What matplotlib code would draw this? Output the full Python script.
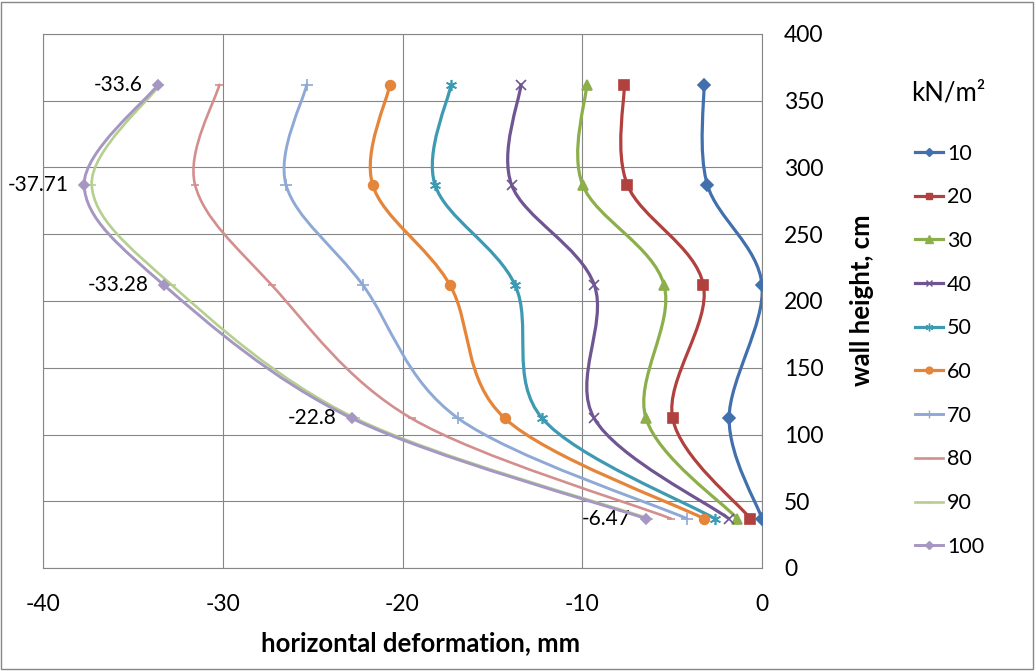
import matplotlib
matplotlib.use("Agg")
import matplotlib.pyplot as plt
from matplotlib.path import Path
from matplotlib.patches import PathPatch, Rectangle
from matplotlib.lines import Line2D

plt.rcParams['font.family'] = ['Lato', 'DejaVu Sans']
plt.rcParams['axes.unicode_minus'] = False

# wall heights (cm) of the measuring points
heights = [37, 112, 212, 287, 362]

# horizontal deformation (mm) for each load (kN/m2)
loads = ['10', '20', '30', '40', '50', '60', '70', '80', '90', '100']
d10 = [0.0, -1.83, 0.0, -3.04, -3.23]
d20 = [-0.65, -4.97, -3.26, -7.49, -7.66]
d30 = [-1.37, -6.45, -5.45, -9.98, -9.75]
d40 = [-1.85, -9.33, -9.33, -13.93, -13.41]
d50 = [-2.63, -12.22, -13.74, -18.19, -17.30]
d60 = [-3.23, -14.30, -17.36, -21.66, -20.70]
d70 = [-4.18, -16.89, -22.21, -26.48, -25.33]
d80 = [-5.07, -19.49, -27.28, -31.54, -30.19]
d90 = [-6.30, -22.60, -32.84, -37.29, -33.50]
d100 = [-6.47, -22.8, -33.28, -37.71, -33.6]
series = [d10, d20, d30, d40, d50, d60, d70, d80, d90, d100]

colors = ['#4270AD', '#B0413E', '#8CAF4B', '#6F5592', '#3E9AB2',
          '#E5853A', '#8EA9D5', '#D38F8D', '#B5CF8E', '#A596C2']
markers = ['D', 's', '^', 'x', (6, 2, 0), 'o', '+', '_', '_', 'D']
msizes = [6, 7, 7.5, 7, 8, 7, 8, 6, 6, 5.5]
lwidths = [2.3, 2.3, 2.3, 2.3, 2.3, 2.3, 2.1, 1.9, 1.9, 2.1]


def smooth_path(xs, ys):
    # Excel-like smoothed line: cubic Bezier through every point
    pts = list(zip(xs, ys))
    n = len(pts)
    verts = [pts[0]]
    codes = [Path.MOVETO]
    for i in range(n - 1):
        p0 = pts[i - 1] if i > 0 else pts[i]
        p1 = pts[i]
        p2 = pts[i + 1]
        p3 = pts[i + 2] if i + 2 < n else pts[i + 1]
        c1 = (p1[0] + (p2[0] - p0[0]) / 6, p1[1] + (p2[1] - p0[1]) / 6)
        c2 = (p2[0] - (p3[0] - p1[0]) / 6, p2[1] - (p3[1] - p1[1]) / 6)
        verts += [c1, c2, p2]
        codes += [Path.CURVE4] * 3
    return Path(verts, codes)


fig = plt.figure(figsize=(10.36, 6.71), dpi=100)
ax = fig.add_axes([43 / 1036, 103 / 671, 719 / 1036, 534 / 671])

handles = []
for i, vals in enumerate(series):
    patch = PathPatch(smooth_path(vals, heights), fill=False, edgecolor=colors[i],
                      lw=lwidths[i], zorder=3 + i, capstyle='round', joinstyle='round')
    ax.add_patch(patch)
    ax.plot(vals, heights, ls='none', marker=markers[i], ms=msizes[i],
            color=colors[i], mec=colors[i], mew=1.2, zorder=3 + i)
    handles.append(Line2D([], [], color=colors[i], lw=lwidths[i], marker=markers[i],
                          ms=msizes[i] * 0.7, mew=1.0))

# data labels of the 100 kN/m2 series
for x, y in zip(d100, heights):
    ax.annotate(f'{x:g}', (x, y), xytext=(-11, 0), textcoords='offset points',
                ha='right', va='center', fontsize=15)

ax.set_xlim(-40, 0)
ax.set_ylim(0, 400)
ax.set_xticks(range(-40, 1, 10))
ax.set_yticks(range(0, 401, 50))
ax.yaxis.tick_right()
ax.tick_params(length=0, labelsize=16.5)
ax.tick_params(axis='y', pad=16)
ax.tick_params(axis='x', pad=19)
ax.grid(True, color='#868686', lw=0.8)
ax.set_axisbelow(True)
for s in ax.spines.values():
    s.set_color('#868686')
    s.set_linewidth(0.8)

fig.text(421 / 1036, 1 - 643 / 671, 'horizontal deformation, mm', ha='center', va='center',
         fontsize=18.5, fontweight='bold')
fig.text(862 / 1036, 1 - 300 / 671, 'wall height, cm', ha='center', va='center',
         rotation=90, fontsize=18.5, fontweight='bold')

fig.text(948 / 1036, 1 - 93 / 671, 'kN/m²', ha='center', va='center', fontsize=18.5)
fig.legend(handles, loads, loc='upper left', bbox_to_anchor=(906 / 1036, 1 - 135 / 671),
           frameon=False, fontsize=15.5, handlelength=1.3, handletextpad=0.2,
           labelspacing=1.10, borderaxespad=0)

fig.add_artist(Rectangle((1 / 1036, 2 / 671), 1032 / 1036, 667 / 671, transform=fig.transFigure,
                         fill=False, edgecolor='#868686', lw=1.0))

fig.savefig('out.png', dpi=100)
